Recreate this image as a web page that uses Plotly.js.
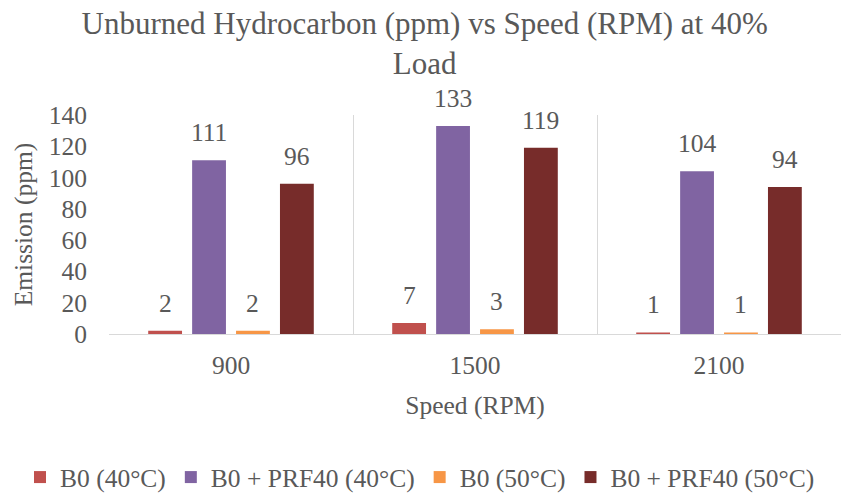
<!DOCTYPE html>
<html>
<head>
<meta charset="utf-8">
<script src="https://cdn.plot.ly/plotly-3.0.1.min.js"></script>
<style>
  html, body { margin: 0; padding: 0; background: #ffffff; }
  #chart { width: 841px; height: 501px; }
</style>
</head>
<body>
<div id="chart"></div>
<script>
// Engine speed categories (RPM)
const speeds = ['900', '1500', '2100'];

// Unburned hydrocarbon emissions (ppm) per fuel / intake temperature
const seriesNames = ['B0 (40°C)', 'B0 + PRF40 (40°C)', 'B0 (50°C)', 'B0 + PRF40 (50°C)'];
const b0At40 = [2, 7, 1];
const prf40At40 = [111, 133, 104];
const b0At50 = [2, 3, 1];
const prf40At50 = [96, 119, 94];
const seriesValues = [b0At40, prf40At40, b0At50, prf40At50];

const seriesColors = ['#C0504D', '#8064A2', '#F79646', '#772C2A'];
const yTicks = [0, 20, 40, 60, 80, 100, 120, 140];

const FONT = 'Liberation Serif, Times New Roman, serif';
const TEXT = '#595959';
const SIZE = 25.5;

const W = 841, H = 501;
const margin = { l: 109, r: 0, t: 115, b: 167 };
const bargap = 0.28;
const bargroupgap = 0.23;

const traces = seriesValues.map((vals, i) => ({
  type: 'bar',
  name: seriesNames[i],
  x: speeds,
  y: vals,
  marker: { color: seriesColors[i], line: { width: 0 } },
  hoverinfo: 'skip'
}));

// Value labels above each bar, shifted to the slot of its series within the group
const plotW = W - margin.l - margin.r;
const plotH = H - margin.t - margin.b;
const slot = plotW / speeds.length * (1 - bargap) / seriesValues.length;
const annotations = [];
seriesValues.forEach((vals, i) => {
  vals.forEach((v, j) => {
    annotations.push({
      xref: 'x', yref: 'y',
      x: j, y: v,
      xshift: (i - (seriesValues.length - 1) / 2) * slot,
      yshift: 11,
      yanchor: 'bottom',
      showarrow: false,
      text: String(v),
      font: { family: FONT, size: SIZE, color: TEXT }
    });
  });
});

const layout = {
  width: W, height: H,
  margin: margin,
  paper_bgcolor: '#ffffff',
  plot_bgcolor: '#ffffff',
  barmode: 'group',
  bargap: bargap,
  bargroupgap: bargroupgap,
  font: { family: FONT, color: TEXT },
  title: {
    text: 'Unburned Hydrocarbon (ppm) vs Speed (RPM) at 40%<br>Load',
    font: { family: FONT, size: 31, color: TEXT },
    xref: 'container', x: 0.505, xanchor: 'center',
    yref: 'container', y: 1 - 34 / H, yanchor: 'top'
  },
  xaxis: {
    type: 'category',
    categoryorder: 'array',
    categoryarray: speeds,
    range: [-0.5, speeds.length - 0.5],
    autorange: false,
    tickson: 'boundaries',
    showgrid: true,
    gridcolor: '#d9d9d9',
    gridwidth: 1,
    showline: true,
    linecolor: '#d9d9d9',
    linewidth: 1,
    ticks: '',
    tickangle: 0,
    ticklabelstandoff: 8,
    tickfont: { family: FONT, size: SIZE, color: TEXT },
    title: { text: 'Speed (RPM)', font: { family: FONT, size: SIZE, color: TEXT }, standoff: 17 },
    automargin: false,
    fixedrange: true
  },
  yaxis: {
    range: [0, 140],
    autorange: false,
    tickvals: yTicks,
    ticktext: yTicks.map(String),
    showgrid: false,
    zeroline: false,
    showline: false,
    ticks: '',
    ticklabelstandoff: 21,
    tickfont: { family: FONT, size: SIZE, color: TEXT },
    title: { text: 'Emission (ppm)', font: { family: FONT, size: SIZE, color: TEXT }, standoff: 8 },
    automargin: false,
    fixedrange: true
  },
  // Legend sits below the plot, starting left of it so one row fits the full width
  legend: {
    orientation: 'h',
    xref: 'paper', x: (20 - margin.l) / plotW, xanchor: 'left',
    yref: 'paper', y: -(478 - (H - margin.b)) / plotH, yanchor: 'middle',
    font: { family: FONT, size: SIZE, color: TEXT },
    traceorder: 'normal'
  },
  annotations: annotations,
  showlegend: true
};

Plotly.newPlot('chart', traces, layout, { displayModeBar: false, staticPlot: true });
</script>
</body>
</html>
